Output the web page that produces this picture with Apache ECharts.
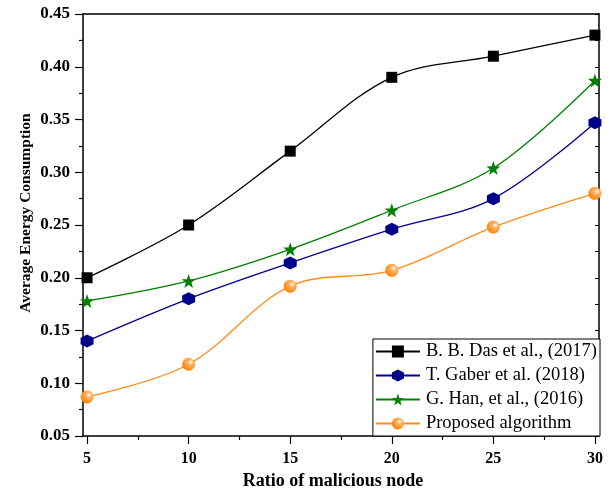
<!DOCTYPE html>
<html><head><meta charset="utf-8">
<script src="https://cdn.jsdelivr.net/npm/echarts@6/dist/echarts.min.js"></script>
<style>html,body{margin:0;padding:0;background:#fff}#c{width:614px;height:489px}</style>
</head><body><div id="c"></div>
<script>
const xValues = [5, 10, 15, 20, 25, 30];
const dasValues = [0.200, 0.250, 0.320, 0.390, 0.410, 0.430];
const gaberValues = [0.140, 0.180, 0.214, 0.246, 0.275, 0.347];
const hanValues = [0.178, 0.197, 0.227, 0.264, 0.304, 0.387];
const proposedValues = [0.087, 0.118, 0.192, 0.207, 0.248, 0.280];
const seriesNames = ['B. B. Das et al., (2017)', 'T. Gaber et al. (2018)', 'G. Han, et al., (2016)', 'Proposed algorithm'];
const xTickLabels = [5, 10, 15, 20, 25, 30];
const xMinorTicks = [7.5, 12.5, 17.5, 22.5, 27.5];

const serif = '"Liberation Serif","Times New Roman",serif';
const pair = (vals) => xValues.map((x, i) => [x, vals[i]]);
const hex = 'path://M0,-10 L8.66,-5 L8.66,5 L0,10 L-8.66,5 L-8.66,-5Z';
const star = 'path://M0,-10 L2.35,-3.24 L9.51,-3.09 L3.8,1.24 L5.88,8.09 L0,4 L-5.88,8.09 L-3.8,1.24 L-9.51,-3.09 L-2.35,-3.24Z';

const chart = echarts.init(document.getElementById('c'));
const mk = (name, vals, color, symbol, size, itemColor) => ({
  name, type: 'line', data: pair(vals), smooth: 0.35, xAxisIndex: 0, yAxisIndex: 0,
  symbol, symbolSize: size, showSymbol: true,
  lineStyle: { color, width: 1.3 },
  itemStyle: { color: itemColor || color, borderWidth: 0 },
  emphasis: { disabled: true }
});
const orangeGrad = new echarts.graphic.RadialGradient(0.65, 0.35, 0.7, [
  { offset: 0, color: '#ffffff' }, { offset: 0.3, color: '#ffb366' }, { offset: 1, color: '#ff7f00' }
]);
const hidden = { show: false };
chart.setOption({
  animation: false,
  grid: { left: 83, right: 15, top: 14, bottom: 53, containLabel: false, outerBoundsMode: 'none' },
  legend: {
    orient: 'vertical', right: 14, bottom: 53,
    backgroundColor: '#fff', borderColor: '#000', borderWidth: 1, borderRadius: 0,
    padding: [3, 3, 3, 2], itemGap: 5, itemWidth: 44, itemHeight: 15,
    textStyle: { fontFamily: serif, fontSize: 18.5, color: '#000', padding: [0, 0, 0, 1] },
    data: seriesNames
  },
  xAxis: [{
    type: 'value', min: 4.8, max: 30.2,
    name: 'Ratio of malicious node', nameLocation: 'middle', nameGap: 35,
    nameTextStyle: { fontFamily: serif, fontSize: 18, fontWeight: 'bold', color: '#000', padding: [0, 16, 0, 0] },
    axisLine: { lineStyle: { color: '#000', width: 1.5 } },
    axisTick: { inside: false, length: 8, lineStyle: { color: '#000', width: 1.2 }, customValues: xTickLabels },
    axisLabel: { customValues: xTickLabels, fontFamily: serif, fontSize: 16, fontWeight: 'bold', color: '#000', margin: 15 },
    splitLine: hidden
  }, {
    type: 'value', position: 'top', min: 4.8, max: 30.2,
    axisLine: { show: true, lineStyle: { color: '#000', width: 1.5 } },
    axisTick: hidden, axisLabel: hidden, splitLine: hidden
  }, {
    type: 'value', position: 'bottom', min: 4.8, max: 30.2, offset: 0,
    axisLine: hidden,
    axisTick: { inside: false, length: 4, lineStyle: { color: '#000', width: 1.2 }, customValues: xMinorTicks },
    axisLabel: { show: false, customValues: xMinorTicks }, splitLine: hidden
  }],
  yAxis: [{
    type: 'value', min: 0.05, max: 0.45, interval: 0.05,
    name: 'Average Energy Consumption', nameLocation: 'middle', nameGap: 49, nameMoveOverlap: false,
    nameTextStyle: { fontFamily: serif, fontSize: 15.5, fontWeight: 'bold', color: '#000', padding: [0, 0, 0, 24] },
    axisLine: { show: true, lineStyle: { color: '#000', width: 1.5 } },
    axisTick: { inside: false, length: 8, lineStyle: { color: '#000', width: 1.2 } },
    minorTick: { show: true, splitNumber: 2, length: 4, lineStyle: { color: '#000', width: 1.2 } },
    axisLabel: { formatter: v => v.toFixed(2), fontFamily: serif, fontSize: 17, fontWeight: 'bold', color: '#000', margin: 13 },
    splitLine: hidden
  }, {
    type: 'value', position: 'right', min: 0.05, max: 0.45, interval: 0.05,
    axisLine: { show: true, lineStyle: { color: '#000', width: 1.5 } },
    axisTick: { inside: true, length: 4, lineStyle: { color: '#000', width: 1 } },
    minorTick: { show: true, splitNumber: 2, length: 4, lineStyle: { color: '#000', width: 1 } },
    axisLabel: hidden, splitLine: hidden
  }],
  series: [
    mk(seriesNames[0], dasValues, '#000000', 'rect', 11),
    mk(seriesNames[1], gaberValues, '#00008b', hex, 13),
    mk(seriesNames[2], hanValues, '#008000', star, 14),
    mk(seriesNames[3], proposedValues, '#ff8c1a', 'circle', 13, orangeGrad)
  ]
});
</script></body></html>
